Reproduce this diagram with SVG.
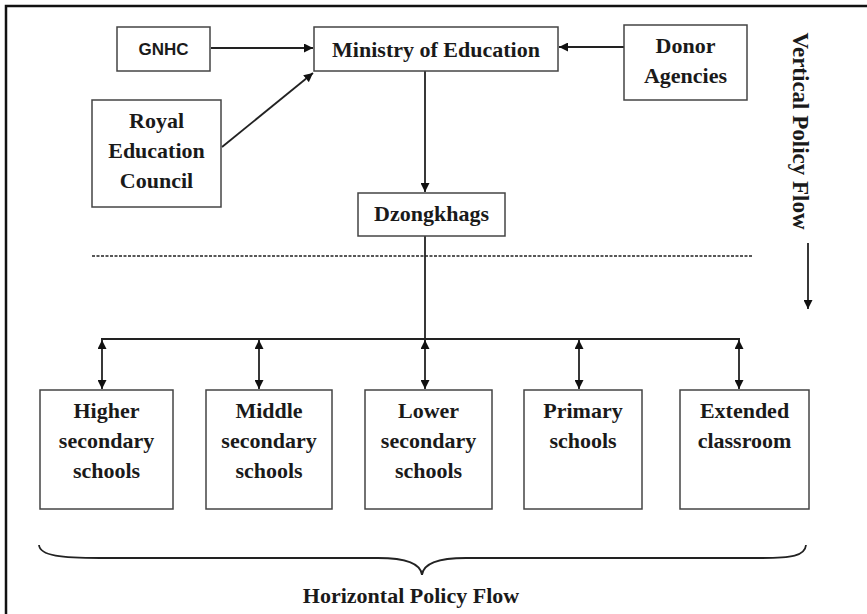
<svg xmlns="http://www.w3.org/2000/svg" width="867" height="614" viewBox="0 0 867 614">
<style>
.box{fill:#fff;stroke:#444;stroke-width:1.5}
.t{font-family:"Liberation Serif","Times New Roman",serif;font-weight:bold;font-size:22px;fill:#1a1a1a;text-anchor:middle}
.s{font-family:"Liberation Sans",Arial,sans-serif;font-weight:bold;font-size:17px;fill:#1a1a1a;text-anchor:middle}
.ln{stroke:#222;stroke-width:1.8;fill:none}
</style>
<defs>
<marker id="ah" viewBox="0 0 10 10" refX="10" refY="5" markerWidth="9" markerHeight="9" markerUnits="userSpaceOnUse" orient="auto-start-reverse">
<path d="M0,0 L10,5 L0,10 z" fill="#111"/>
</marker>
</defs>
<rect x="0" y="0" width="867" height="614" fill="#fff"/>
<rect x="6" y="6" width="880" height="640" fill="none" stroke="#111" stroke-width="2.5"/>

<g id="connectors">
<line class="ln" x1="211" y1="48" x2="313" y2="48" marker-end="url(#ah)"/>
<line class="ln" x1="624" y1="47" x2="559" y2="47" marker-end="url(#ah)"/>
<line class="ln" x1="222" y1="147" x2="313" y2="73" marker-end="url(#ah)"/>
<line class="ln" x1="425" y1="71" x2="425" y2="192" marker-end="url(#ah)"/>
<line class="ln" x1="425" y1="236" x2="425" y2="339"/>
<line x1="92" y1="256" x2="753" y2="256" stroke="#222" stroke-width="1.6" stroke-dasharray="3 1.5"/>
<line class="ln" x1="101" y1="339" x2="740" y2="339"/>
<line class="ln" x1="102" y1="340" x2="102" y2="389" marker-start="url(#ah)" marker-end="url(#ah)"/>
<line class="ln" x1="259" y1="340" x2="259" y2="389" marker-start="url(#ah)" marker-end="url(#ah)"/>
<line class="ln" x1="425" y1="340" x2="425" y2="389" marker-start="url(#ah)" marker-end="url(#ah)"/>
<line class="ln" x1="579" y1="340" x2="579" y2="389" marker-start="url(#ah)" marker-end="url(#ah)"/>
<line class="ln" x1="739" y1="340" x2="739" y2="389" marker-start="url(#ah)" marker-end="url(#ah)"/>
<line class="ln" x1="808" y1="243" x2="808" y2="309" marker-end="url(#ah)"/>
<path class="ln" d="M39,545 C40,556 62,558 100,558 L378,558 C408,558 421,565 422,575 C423,565 436,558 466,558 L760,558 C792,558 805,556 806,545"/>
</g>

<g id="gnhc"><rect class="box" x="117" y="27" width="93" height="44"/><text class="s" x="163.5" y="55">GNHC</text></g>
<g id="ministry"><rect class="box" x="314" y="27" width="244" height="44"/><text class="t" x="436" y="57">Ministry of Education</text></g>
<g id="donor"><rect class="box" x="624" y="25" width="123" height="75"/><text class="t" x="685.5" y="53">Donor</text><text class="t" x="685.5" y="83">Agencies</text></g>
<g id="rec"><rect class="box" x="92" y="100" width="129" height="107"/><text class="t" x="156.5" y="128">Royal</text><text class="t" x="156.5" y="158">Education</text><text class="t" x="156.5" y="188">Council</text></g>
<g id="dzongkhags"><rect class="box" x="358" y="193" width="147" height="43"/><text class="t" x="431.5" y="221">Dzongkhags</text></g>

<g id="higher"><rect class="box" x="40" y="390" width="133" height="119"/><text class="t" x="106.5" y="418">Higher</text><text class="t" x="106.5" y="448">secondary</text><text class="t" x="106.5" y="478">schools</text></g>
<g id="middle"><rect class="box" x="206" y="390" width="126" height="119"/><text class="t" x="269" y="418">Middle</text><text class="t" x="269" y="448">secondary</text><text class="t" x="269" y="478">schools</text></g>
<g id="lower"><rect class="box" x="365" y="390" width="127" height="119"/><text class="t" x="428.5" y="418">Lower</text><text class="t" x="428.5" y="448">secondary</text><text class="t" x="428.5" y="478">schools</text></g>
<g id="primary"><rect class="box" x="524" y="390" width="118" height="119"/><text class="t" x="583" y="418">Primary</text><text class="t" x="583" y="448">schools</text></g>
<g id="extended"><rect class="box" x="680" y="390" width="129" height="119"/><text class="t" x="744.5" y="418">Extended</text><text class="t" x="744.5" y="448">classroom</text></g>

<text class="t" transform="translate(793,131) rotate(90)" x="0" y="0" style="font-size:23px">Vertical Policy Flow</text>
<text class="t" x="411" y="603">Horizontal Policy Flow</text>
</svg>
